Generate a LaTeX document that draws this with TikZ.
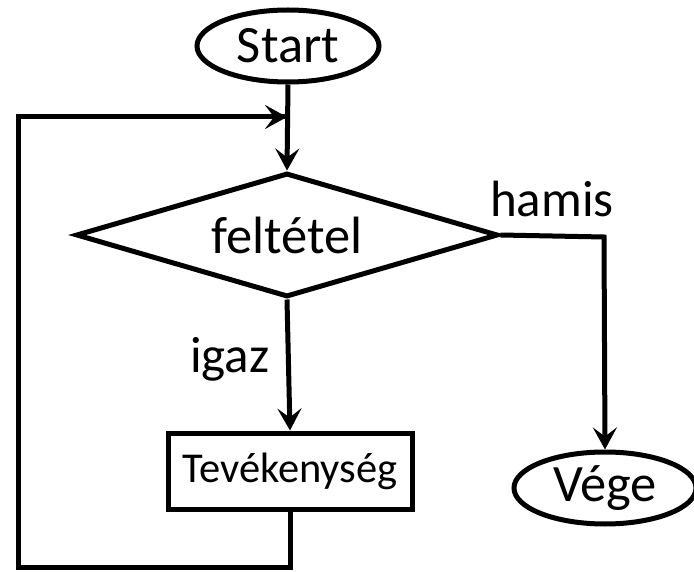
\documentclass[tikz,border=0pt]{standalone}
\usepackage{fontspec}
\setmainfont{Carlito}
\usetikzlibrary{shapes.geometric,arrows.meta}
\newcommand\flowbig{\fontsize{52.5}{62}\selectfont}
\newcommand\flowlab{\fontsize{51}{60}\selectfont}
\newcommand\flowmid{\fontsize{42.5}{50}\selectfont}
\begin{document}
\begin{tikzpicture}[x=1pt,y=-1pt,
  flow/.style={line width=5pt,line join=miter},
  arr/.style={flow,-{Stealth[length=22pt,width=24pt,inset=9pt]}},
  terminal/.style={ellipse,draw,line width=5pt,minimum width=182pt,
    minimum height=72pt,inner sep=0pt,font=\flowbig},
  decision/.style={diamond,draw,line width=5pt,line join=miter,
    minimum width=422pt,minimum height=124pt,aspect=3.4,inner sep=0pt,font=\flowbig},
  action/.style={rectangle,draw,line width=5pt,minimum width=244pt,
    minimum height=76pt,inner sep=0pt,font=\flowmid},
  label/.style={anchor=base west,inner sep=0pt,font=\flowlab}
]
\useasboundingbox (0,0) rectangle (694,572);

% nodes
\node[terminal] (start) at (288,46) {Start};
\node[decision] (cond) at (287,235) {feltétel};
\node[action] (act) at (290,471) {Tevékenység};
\node[terminal] (vege) at (605,488) {Vége};

\node[label] (igaz) at (190,372) {igaz};
\node[label] (hamis) at (490,217) {hamis};

% corner points of the connectors
\coordinate (join) at (287,117);
\coordinate (loopB) at (290,567);
\coordinate (loopBL) at (18,567);
\coordinate (loopTL) at (18,117);
\coordinate (falseC) at (604,237);

% connectors
\draw[arr] (start.south) -- (cond.north);
\draw[arr] (cond.south) -- (act.north);
\draw[flow] (act.south) -- (loopB) -- (loopBL) -- (loopTL) -- (join);
\draw[arr] (loopTL) -- (join);
\draw[arr] (cond.east) -- (falseC) -- (vege.north);
\end{tikzpicture}
\end{document}
